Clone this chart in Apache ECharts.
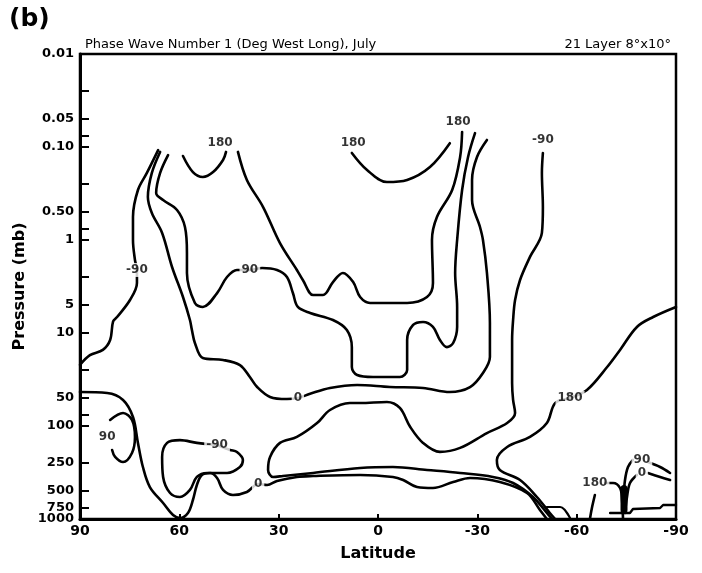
<!DOCTYPE html>
<html>
<head>
<meta charset="utf-8">
<script src="https://cdn.jsdelivr.net/npm/echarts@6/dist/echarts.min.js"></script>
<style>html,body{margin:0;padding:0;background:#fff;}#c{width:702px;height:573px;}</style>
</head>
<body>
<div id="c"></div>
<script>
// ---- axis ticks / labels ----
const latTicks = [90, 60, 30, 0, -30, -60, -90];
const pressureLabels = [0.01, 0.05, 0.1, 0.5, 1, 5, 10, 50, 100, 250, 500];
const pressureLabel750 = [750];
const pressureLabel1000 = [1000];
const pressureTicks = [0.01, 0.025, 0.05, 0.075, 0.1, 0.25, 0.5, 0.75, 1, 2.5, 5, 10, 25, 50, 75, 100, 250, 500, 750, 1000];

// ---- contour lines: [latitude, pressure (mb)] ----
const cNeg90North = [[66.4,0.108],[69.8,0.19],[72.5,0.29],[74,0.566],[74,1.0],[73.4,1.64],[72.8,2.1],[72.8,2.9],[74.9,4.42],[78.8,6.73],[80,7.5],[80.9,11.9],[83.1,15.2],[87,17.3],[90,22]];
const c0Upper = [[65.8,0.113],[68.3,0.19],[69.5,0.345],[68.3,0.513],[65.2,0.84],[62.2,1.95],[58.9,4.1],[56.8,7.25],[56.2,9.3],[55.3,12.8],[52.9,18.6],[46.8,19.5],[41.7,22.1],[38.7,29.7],[36.5,38.1],[32.6,48.7],[27.5,51.3],[24.2,50],[20.5,45],[14.5,39],[6.3,36.2],[-3.6,38.1],[-13.6,39],[-21.7,43.1],[-27.8,38.1],[-31.7,26.9],[-33.8,18.1],[-33.8,7.8],[-32.9,2.26],[-31.7,1.0],[-30.8,0.725],[-28.4,0.372],[-28.4,0.226],[-29.9,0.128],[-32.9,0.084]];
const c180Trough = [[42.3,0.113],[39.6,0.226],[34.7,0.442],[29.6,1.08],[24.5,2.1],[22.7,2.69],[19.6,3.9],[16.6,3.9],[13.6,2.83],[10.6,2.26],[7.5,2.83],[5.4,4.1],[2.4,4.75],[-8.8,4.75],[-14.8,4.1],[-16.6,2.9],[-16.3,1.0],[-17.8,0.566],[-22.4,0.29],[-24.8,0.128],[-25.4,0.069]];
const c90 = [[63.4,0.122],[65.8,0.19],[67,0.312],[64.9,0.372],[60.7,0.476],[58.3,0.725],[57.7,1.38],[57.7,2.26],[55.3,4.75],[52.9,5.25],[48.6,3.72],[45.6,2.5],[42.6,2.1],[38.7,2.1],[35,2.0],[30.5,2.1],[27.5,2.5],[25.7,3.72],[24.2,5.25],[20.5,6.09],[13.6,7.25],[9.4,9.28],[7.9,14.2],[7.9,23.2],[6.3,28.3],[1.5,29.7],[-6.6,29.7],[-8.8,25],[-8.8,11.9],[-10.6,8.2],[-13.6,7.62],[-16.6,8.61],[-18.7,11.9],[-20.8,14.2],[-22.7,12.8],[-23.9,8.61],[-23.9,5.25],[-23.3,2.26],[-23.9,1.0],[-25.4,0.29],[-27.2,0.128],[-29.3,0.071]];
const cNeg90South = [[-49.8,0.116],[-49.5,0.19],[-49.8,0.442],[-49.5,0.84],[-45.9,1.52],[-42.9,2.69],[-41.4,4.42],[-40.8,7.25],[-40.5,11.9],[-40.5,34.5],[-40.8,52.5],[-41.4,72.4],[-39,92.9],[-32.9,119],[-24.8,172],[-18.7,190],[-13.6,152],[-9.7,102],[-6.6,64],[-2.7,55.2],[5.4,56.6],[8.5,56.6],[14.5,67.3],[18.4,92.9],[24.5,131],[29.6,152],[32.6,215],[33.2,297],[31.7,353],[28.7,345],[19.6,320],[5.4,283],[-4.5,276],[-14.8,297],[-24.8,320],[-34.7,353],[-40.8,410],[-46.8,580],[-51,861],[-52.6,1000]];
const c0Lower = [[90,43.1],[81.8,44.2],[77,52.5],[74,80],[72.5,152],[71,276],[68.9,453],[64.9,673],[61.9,906],[59.8,975],[57.4,861],[55.9,625],[54.7,431],[53.2,336],[50.7,320],[48.6,362],[46.8,487],[43.8,552],[39.6,512],[36.2,421],[33.5,431],[30.5,390],[24.5,353],[19.6,345],[5.4,336],[-4.5,353],[-7.6,381],[-11.8,453],[-16.6,464],[-22.7,400],[-27.8,362],[-36.8,400],[-45,525],[-48.9,800],[-51,1000]];
const c180South = [[-90,5.25],[-83.1,6.73],[-78.2,8.61],[-73.1,15.2],[-69.2,23.2],[-63.1,41],[-58,50],[-53.5,56.6],[-51,92.9],[-45.9,131],[-39,168],[-35.9,232],[-36.8,297],[-42.9,381],[-48,580],[-51.9,861],[-53.5,1000]];
const c90Loop = [[80.9,86],[77,72.4],[74.3,86],[73.4,131],[74.3,195],[77,244],[79.4,215],[80.3,181]];
const cNeg90Loop = [[48.6,160],[44.7,181],[42.6,190],[40.8,232],[41.7,276],[45.6,320],[51.6,320],[54.7,353],[56.8,487],[59.8,580],[62.8,525],[64.9,353],[65.2,215],[63.7,152],[59.8,142],[54.7,152],[48.6,160]];
const c180North = [[58.9,0.125],[55.9,0.186],[52.9,0.21],[49.8,0.186],[46.8,0.138],[45.9,0.113]];
const c180Center = [[7.9,0.116],[3.3,0.177],[-2.7,0.238],[-8.8,0.226],[-15.7,0.164],[-21.7,0.091]];
const c180PolarA = [[-65.5,552],[-64.6,762],[-64,1000]];
const c180PolarB = [[-68.6,410],[-71,410],[-73.1,464],[-73.7,625],[-74,1000]];
const c90PolarA = [[-81.5,244],[-85.2,276],[-88.2,320]];
const c90PolarB = [[-77,232],[-75.5,276],[-74.6,381],[-74,673],[-73.7,861]];
const c0PolarA = [[-81.5,320],[-85.2,353],[-88.2,381]];
const c0PolarB = [[-78.2,336],[-76.1,410],[-75.2,580],[-74.6,861]];
const cBlob = [[-74.3,470],[-74.3,800]];
const cSmallArc = [[-51,743],[-55,743],[-58,975]];
const topography = [[-70.1,861],[-76.1,861],[-77,780],[-85.2,762],[-86.1,707],[-90,707]];

// ---- contour labels ----
const contourLabels = [
  ['180', 47.7, 0.091], ['180', 7.5, 0.09], ['180', -24.2, 0.054], ['-90', -49.8, 0.084],
  ['-90', 72.8, 2.1], ['90', 38.7, 2.1], ['0', 24.2, 50], ['180', -58, 50],
  ['90', 81.8, 131], ['-90', 48.6, 160], ['0', 36.2, 421],
  ['180', -65.5, 410], ['90', -79.7, 232], ['0', -79.7, 320]
];

const FONT = 'DejaVu Sans';
function mkLine(data, width, smooth) {
  return {
    type: 'line', data: data, symbol: 'none', showSymbol: false,
    smooth: smooth === undefined ? 0.35 : smooth,
    lineStyle: { color: '#000', width: width || 2.6, cap: 'round', join: 'round' },
    silent: true, z: 2
  };
}

const series = [
  mkLine(cNeg90North), mkLine(c0Upper), mkLine(c180Trough), mkLine(c90),
  mkLine(cNeg90South), mkLine(c0Lower), mkLine(c180South), mkLine(c90Loop),
  mkLine(cNeg90Loop), mkLine(c180North), mkLine(c180Center),
  mkLine(c180PolarA), mkLine(c180PolarB), mkLine(c90PolarA), mkLine(c90PolarB),
  mkLine(c0PolarA), mkLine(c0PolarB), mkLine(cBlob, 7, 0), mkLine(cSmallArc, 2.2),
  mkLine(topography, 2.4, 0),
  {
    type: 'scatter', symbolSize: 0, z: 10, silent: true,
    data: contourLabels.map(d => ({ name: d[0], value: [d[1], d[2]] })),
    label: {
      show: true, position: 'inside', formatter: '{b}',
      fontFamily: FONT, fontWeight: 'bold', fontSize: 12, color: '#000',
      backgroundColor: '#fff', padding: [1, 2]
    }
  }
];

const pFmt = v => (Math.abs(v - 0.1) < 1e-9 ? '0.10' : Math.abs(v - 0.5) < 1e-9 ? '0.50' : String(+v.toPrecision(6)));
const yLabelStyle = { fontFamily: FONT, fontWeight: 'bold', fontSize: 13, color: '#000', margin: 6, hideOverlap: false };
function labelAxis(vals) {
  return {
    type: 'log', logBase: 10, min: 0.01, max: 1000, inverse: true, position: 'left', offset: 0,
    axisLine: { show: false, onZero: false }, axisTick: { show: false }, splitLine: { show: false },
    axisLabel: Object.assign({ showMinLabel: true, showMaxLabel: true, customValues: vals, formatter: pFmt }, yLabelStyle)
  };
}

const chart = echarts.init(document.getElementById('c'), null, { renderer: 'canvas' });
chart.setOption({
  animation: false,
  backgroundColor: '#fff',
  title: [
    { text: '(b)', left: 4, top: 2, textStyle: { fontFamily: FONT, fontWeight: 'bold', fontSize: 25, color: '#000' } },
    { text: 'Phase Wave Number 1 (Deg West Long), July', left: 80, top: 33, textStyle: { fontFamily: FONT, fontWeight: 'normal', fontSize: 13, color: '#000' } },
    { text: '21 Layer 8°x10°', right: 26, top: 33, textStyle: { fontFamily: FONT, fontWeight: 'normal', fontSize: 13, color: '#000' } }
  ],
  grid: { left: 80, right: 26, top: 54, bottom: 54, show: true, borderColor: '#000', borderWidth: 2.5, backgroundColor: 'transparent' },
  xAxis: {
    type: 'value', min: -90, max: 90, interval: 30, inverse: true,
    name: 'Latitude', nameLocation: 'middle', nameGap: 27,
    nameTextStyle: { fontFamily: FONT, fontSize: 16, fontWeight: 'bold', color: '#000' },
    axisLine: { show: true, onZero: false, lineStyle: { color: '#000', width: 3 } },
    axisTick: { show: true, inside: true, length: 5, lineStyle: { color: '#000', width: 2 } },
    axisLabel: { fontFamily: FONT, fontWeight: 'bold', fontSize: 14, color: '#000', margin: 5,
      showMinLabel: true, showMaxLabel: true,
      customValues: latTicks, formatter: v => String(v) },
    splitLine: { show: false }
  },
  yAxis: [{
    type: 'log', logBase: 10, min: 0.01, max: 1000, inverse: true,
    name: 'Pressure (mb)', nameLocation: 'middle', nameGap: 52, nameRotate: 90,
    nameTextStyle: { fontFamily: FONT, fontSize: 16, fontWeight: 'bold', color: '#000' },
    axisLine: { show: true, onZero: false, lineStyle: { color: '#000', width: 3 } },
    axisTick: { show: true, inside: true, length: 9, lineStyle: { color: '#000', width: 2 }, customValues: pressureTicks },
    axisLabel: Object.assign({ showMinLabel: true, showMaxLabel: true, customValues: pressureLabels, formatter: pFmt }, yLabelStyle),
    splitLine: { show: false }
  }, labelAxis(pressureLabel750), labelAxis(pressureLabel1000)],
  series: series
});
</script>
</body>
</html>
